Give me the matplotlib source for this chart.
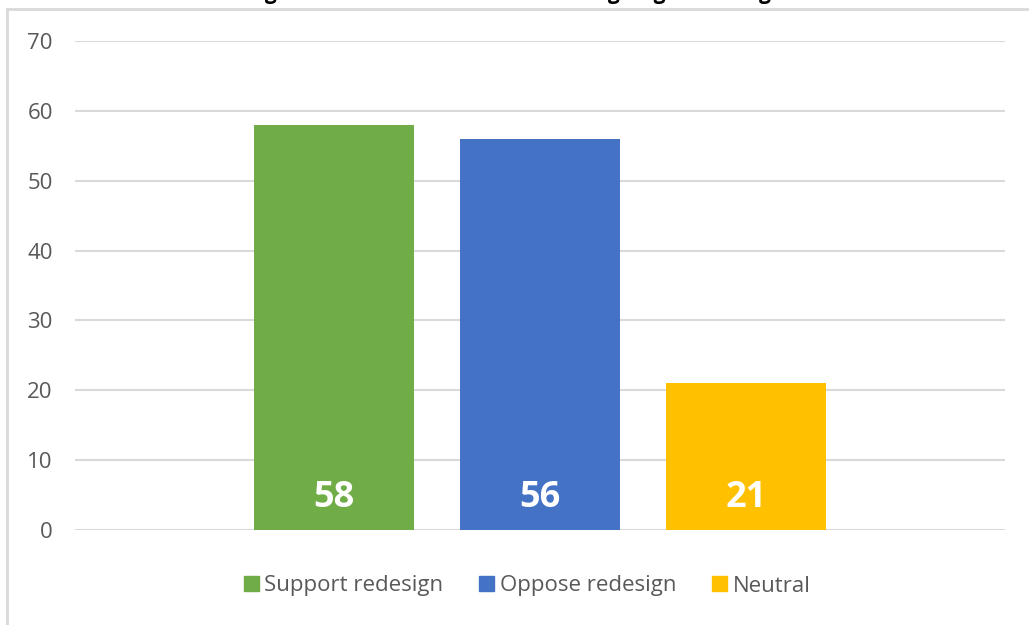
import matplotlib.pyplot as plt
from matplotlib.patches import Rectangle

# data
categories = ["Support redesign", "Oppose redesign", "Neutral"]
values = [58, 56, 21]
colors = ["#70AD47", "#4472C4", "#FFC000"]
yticks = [0, 10, 20, 30, 40, 50, 60, 70]
title = "Figure 4: Overall attitude on redesigning of the region"

plt.rcParams["font.family"] = ["Open Sans", "DejaVu Sans"]

fig = plt.figure(figsize=(10.29, 6.25), dpi=100)
ax = fig.add_axes([75 / 1029, 1 - 530 / 625, 930 / 1029, 489 / 625])

x = range(len(categories))
bars = ax.bar(x, values, width=0.78, color=colors, label=categories, zorder=3)

for b, v in zip(bars, values):
    ax.text(b.get_x() + b.get_width() / 2, 4.6, str(v), ha="center", va="center",
            color="white", fontsize=26, fontweight="bold", zorder=4)

ax.set_xlim(-1.26, 3.26)
ax.set_ylim(0, 70)
ax.set_yticks(yticks)
ax.set_xticks([])
ax.yaxis.grid(True, color="#d9d9d9", linewidth=1.5, zorder=0)
for s in ax.spines.values():
    s.set_visible(False)
ax.tick_params(axis="y", length=0, pad=16, labelsize=16, labelcolor="#595959")

handles = [Rectangle((0, 0), 1, 1, color=c) for c in colors]
fig.legend(handles, categories, loc="center", bbox_to_anchor=(527 / 1029, 1 - 586 / 625),
           ncol=3, frameon=False, fontsize=16, labelcolor="#595959",
           handlelength=0.68, handleheight=0.68, handletextpad=0.25, columnspacing=1.6)

# outer chart border (only top and left visible in the reference)
fig.add_artist(plt.Line2D([7 / 1029, 7 / 1029], [0, 1 - 9 / 625], color="#d9d9d9",
                          linewidth=2, transform=fig.transFigure))
fig.add_artist(plt.Line2D([7 / 1029, 1], [1 - 9 / 625, 1 - 9 / 625], color="#d9d9d9",
                          linewidth=2, transform=fig.transFigure))

# title mostly cut off at the top edge, as in the reference
fig.text(525 / 1029, 1 + 0.5 / 625, title, ha="center", va="baseline",
         fontsize=15, fontweight="bold", color="black")

fig.savefig("out.png", dpi=100)
